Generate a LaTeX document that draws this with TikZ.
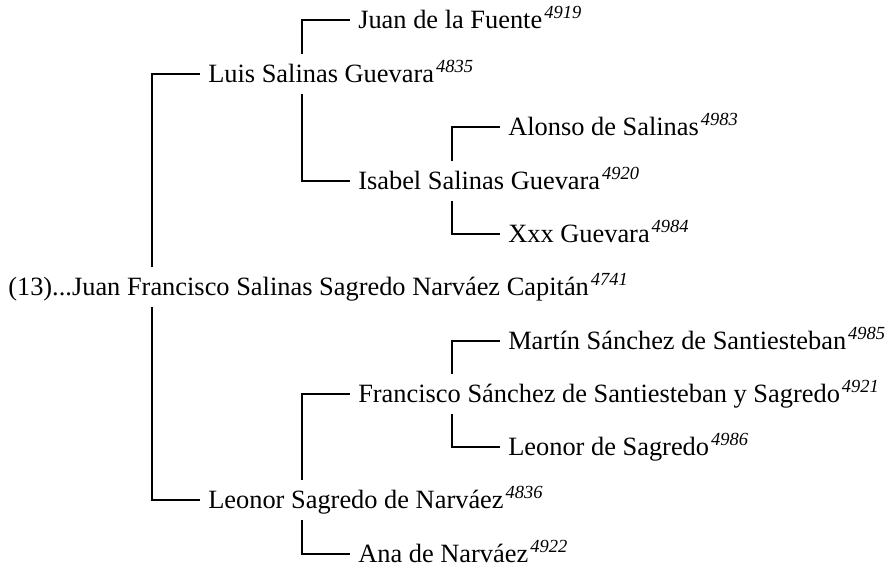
\documentclass[tikz,border=0pt]{standalone}
\usepackage{fontspec}
\setmainfont{Liberation Serif}
\usetikzlibrary{calc}
\tikzset{person/.style={anchor=west, inner xsep=6pt, inner ysep=0pt, text height=13.2pt, text depth=0pt, minimum height=29.25pt, font=\fontsize{19.8}{24}\selectfont},
  link/.style={line width=0.8pt}}
\newcommand{\idno}[1]{\kern1.5pt\textsuperscript{\itshape #1}}

\begin{document}
\begin{tikzpicture}[x=0.75pt, y=-0.75pt]
\useasboundingbox (0,0) rectangle (893,569);
\node[person](root) at (0,287){(13)...Juan Francisco Salinas Sagredo Narváez Capitán\idno{4741}};
\node[person](luis) at (200,74){Luis Salinas Guevara\idno{4835}};
\node[person](juan) at (350,20){Juan de la Fuente\idno{4919}};
\node[person](isabel) at (350,181){Isabel Salinas Guevara\idno{4920}};
\node[person](alonso) at (500,127){Alonso de Salinas\idno{4983}};
\node[person](xxx) at (500,234){Xxx Guevara\idno{4984}};
\node[person](leonor) at (200,500){Leonor Sagredo de Narváez\idno{4836}};
\node[person](francisco) at (350,394){Francisco Sánchez de Santiesteban y Sagredo\idno{4921}};
\node[person](martin) at (500,341){Martín Sánchez de Santiesteban\idno{4985}};
\node[person](leonorsag) at (500,447){Leonor de Sagredo\idno{4986}};
\node[person](ana) at (350,554){Ana de Narváez\idno{4922}};

\draw[link]($(root.north -| luis.west)+(-48,0)$) |- (luis);
\draw[link]($(root.south -| leonor.west)+(-48,0)$) |- (leonor);
\draw[link]($(luis.north -| juan.west)+(-48,0)$) |- (juan);
\draw[link]($(luis.south -| isabel.west)+(-48,0)$) |- (isabel);
\draw[link]($(isabel.north -| alonso.west)+(-48,0)$) |- (alonso);
\draw[link]($(isabel.south -| xxx.west)+(-48,0)$) |- (xxx);
\draw[link]($(leonor.north -| francisco.west)+(-48,0)$) |- (francisco);
\draw[link]($(leonor.south -| ana.west)+(-48,0)$) |- (ana);
\draw[link]($(francisco.north -| martin.west)+(-48,0)$) |- (martin);
\draw[link]($(francisco.south -| leonorsag.west)+(-48,0)$) |- (leonorsag);
\end{tikzpicture}
\end{document}
